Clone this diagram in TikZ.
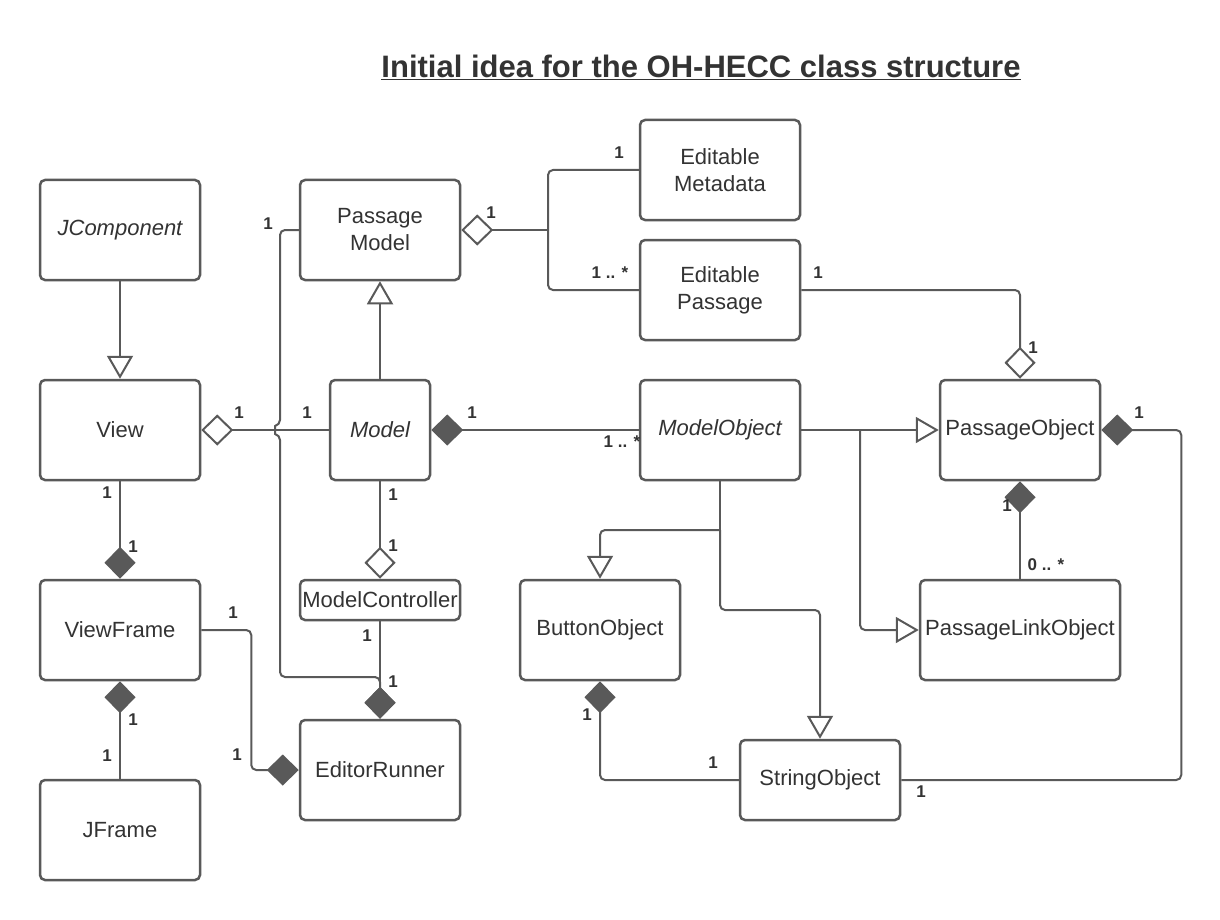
\documentclass[tikz,border=0pt]{standalone}
\usepackage{fontspec}
\setmainfont{Liberation Sans}
\usetikzlibrary{arrows.meta}
\definecolor{ln}{HTML}{595959}
\definecolor{tx}{HTML}{333333}
\tikzset{
  box/.style={draw=ln, line width=2.5pt, rounded corners=5pt, minimum width=160pt, minimum height=100pt,
    inner sep=2pt, text=tx, font=\fontsize{22}{27}\selectfont, align=center, fill=white},
  lbl/.style={text=tx, font=\bfseries\fontsize{17}{17}\selectfont, inner sep=0pt},
  con/.style={draw=ln, line width=2pt, rounded corners=5pt},
  aggE/.style={con, arrows={-Diamond[length=32pt,width=31pt,fill=white]}},
  compE/.style={con, arrows={-Diamond[length=32pt,width=31pt,fill=ln]}},
  genE/.style={con, arrows={-Triangle[length=23pt,width=26pt,fill=white]}}
}
\begin{document}
\begin{tikzpicture}[x=1pt,y=-1pt]
\useasboundingbox (0,0) rectangle (1220,920);
\node[text=tx, font=\bfseries\fontsize{31}{34}\selectfont] (title) at (701,67) {\underline{Initial idea for the OH-HECC class structure}};

\node[box] (jc) at (120,230) {\itshape JComponent};
\node[box] (view) at (120,430) {View};
\node[box] (vf) at (120,630) {ViewFrame};
\node[box] (jf) at (120,830) {JFrame};
\node[box] (pm) at (380,230) {Passage\\Model};
\node[box, minimum width=100pt] (model) at (380,430) {\itshape Model};
\node[box, minimum height=40pt] (mc) at (380,600) {ModelController};
\node[box] (er) at (380,770) {EditorRunner};
\node[box] (em) at (720,170) {Editable\\Metadata};
\node[box] (ep) at (720,290) {Editable\\Passage};
\node[box] (mo) at (720,430) {\itshape ModelObject};
\node[box] (po) at (1020,430) {PassageObject};
\node[box, minimum width=200pt] (plo) at (1020,630) {PassageLinkObject};
\node[box] (bo) at (600,630) {ButtonObject};
\node[box, minimum height=80pt] (so) at (820,780) {StringObject};

% connectors
\draw[genE] (jc.south) -- (view.north);
\draw[aggE] (model.west) -- (view.east);
\draw[compE] (pm.west) -- (280,230) -- (280,425) .. controls (275,426) and (275,434) .. (280,435) -- (280,677) -- (380,677) -- (er.north);
\draw[genE] (model.north) -- (pm.south);
\draw[compE] (mo.west) -- (model.east);
\draw[aggE] (model.south) -- (mc.north);
\draw[compE] (mc.south) -- (er.north);
\draw[compE] (view.south) -- (vf.north);
\draw[compE] (jf.north) -- (vf.south);
\draw[compE] (vf.east) -- ++(50,0) |- (er.west);
\coordinate (fk) at (548,230);
\draw[aggE] (fk) -- (pm.east);
\draw[con] (fk) |- (em.west);
\draw[con] (fk) |- (ep.west);
\draw[aggE] (ep.east) -| (po.north);
\coordinate (g1) at (860,430);
\draw[genE] (mo.east) -- (po.west);
\draw[genE] (g1) |- (plo.west);
\draw[compE] (plo.north) -- (po.south);
\draw[compE] (so.east) -- ++(280,0) |- (po.east);
\coordinate (g2) at (720,530);
\draw[con] (mo.south) -- (g2);
\draw[genE] (g2) -| (bo.north);
\draw[genE] (g2) -- (720,610) -| (so.north);
\draw[compE] (so.west) -| (bo.south);

% labels
\node[lbl] (l1) at (268,224) {1};
\node[lbl] (l2) at (491,213) {1};
\node[lbl] (l3) at (239,413) {1};
\node[lbl] (l4) at (307,413) {1};
\node[lbl] (l5) at (472,413) {1};
\node[lbl] (l6) at (393,495) {1};
\node[lbl] (l7) at (393,546) {1};
\node[lbl] (l8) at (367,636) {1};
\node[lbl] (l9) at (393,682) {1};
\node[lbl] (l10) at (619,153) {1};
\node[lbl] (l11) at (610,273) {1 .. *};
\node[lbl] (l12) at (818,273) {1};
\node[lbl] (l13) at (1033,348) {1};
\node[lbl] (l14) at (1139,413) {1};
\node[lbl] (l15) at (1007,506) {1};
\node[lbl] (l16) at (1046,565) {0 .. *};
\node[lbl] (l17) at (587,715) {1};
\node[lbl] (l18) at (713,763) {1};
\node[lbl] (l19) at (921,792) {1};
\node[lbl] (l20) at (107,493) {1};
\node[lbl] (l21) at (133,547) {1};
\node[lbl] (l22) at (233,613) {1};
\node[lbl] (l23) at (133,720) {1};
\node[lbl] (l24) at (107,756) {1};
\node[lbl] (l25) at (237,755) {1};
\node[lbl] (l26) at (622,442) {1 .. *};
\end{tikzpicture}
\end{document}
